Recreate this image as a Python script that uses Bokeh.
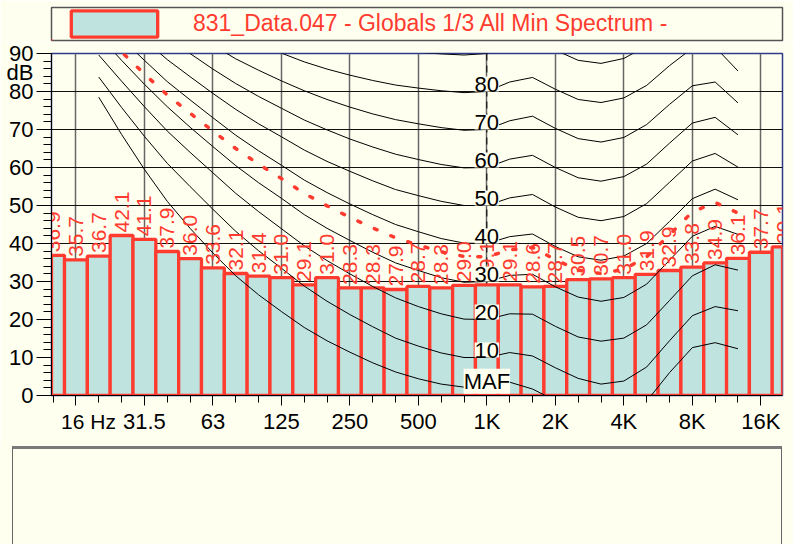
import math
from bokeh.plotting import figure
from bokeh.models import (ColumnDataSource, FixedTicker, Range1d, LabelSet, LinearAxis,
                          Legend, LegendItem, Span, Div)
from bokeh.layouts import column
from bokeh.embed import file_html
from bokeh.resources import INLINE
from bokeh.core.properties import value

# ---------------- data ----------------
series_name = "831_Data.047 - Globals 1/3 All Min Spectrum -"

bands = ["12.5", "16", "20", "25", "31.5", "40", "50", "63", "80", "100", "125",
         "160", "200", "250", "315", "400", "500", "630", "800", "1k", "1.25k",
         "1.6k", "2k", "2.5k", "3.15k", "4k", "5k", "6.3k", "8k", "10k", "12.5k",
         "16k", "20k"]
levels = [36.9, 35.7, 36.7, 42.1, 41.1, 37.9, 36.0, 33.6, 32.1, 31.4, 31.0,
          29.1, 31.0, 28.3, 28.3, 27.9, 28.7, 28.3, 29.0, 29.1, 29.1,
          28.6, 28.7, 30.5, 30.7, 31.0, 31.9, 32.9, 33.8, 34.9, 36.1,
          37.7, 39.1]

octave_bands = ["16", "31.5", "63", "125", "250", "500", "1k", "2k", "4k", "8k", "16k"]
octave_labels = ["", "31.5", "63", "125", "250", "500", "1K", "2K", "4K", "8K", "16K"]
first_label = "16 Hz"
unit_label = "dB"
unit_level = 85

y_ticks = [0, 10, 20, 30, 40, 50, 60, 70, 80, 90]

# equal-loudness contours, 20 Hz .. 12.5 kHz
contour_bands = ["20", "25", "31.5", "40", "50", "63", "80", "100", "125", "160",
                 "200", "250", "315", "400", "500", "630", "800", "1k", "1.25k",
                 "1.6k", "2k", "2.5k", "3.15k", "4k", "5k", "6.3k", "8k", "10k", "12.5k"]
contour_maf = [78.5, 68.7, 59.5, 51.1, 44.0, 37.5, 31.5, 26.5, 22.1, 17.9, 14.4, 11.4, 8.6, 6.2,
               4.4, 3.0, 2.2, 2.4, 3.5, 1.7, -1.3, -4.2, -6.0, -5.4, -1.5, 6.0, 12.6, 13.9, 12.3]
contour_10 = [83.8, 75.8, 68.2, 61.1, 55.0, 49.0, 43.2, 38.1, 33.5, 28.8, 24.8, 21.3, 18.1, 15.1,
              13.0, 11.2, 10.0, 10.0, 11.3, 10.4, 7.3, 4.5, 3.0, 3.8, 7.5, 14.4, 21.0, 23.4, 22.3]
contour_20 = [89.6, 82.7, 76.0, 69.6, 64.0, 58.6, 53.2, 48.4, 43.9, 39.4, 35.5, 32.0, 28.7, 25.7,
              23.4, 21.5, 20.1, 20.0, 21.5, 21.4, 18.2, 15.4, 14.3, 15.1, 18.6, 25.0, 31.5, 34.4, 33.0]
contour_30 = [94.7, 88.2, 81.9, 76.0, 70.6, 65.5, 60.5, 56.0, 51.9, 47.6, 44.0, 40.8, 37.7, 34.9,
              32.9, 31.0, 29.8, 30.0, 31.6, 31.9, 28.6, 25.9, 24.8, 25.8, 29.3, 35.6, 41.9, 44.5, 42.4]
contour_40 = [99.9, 93.9, 88.2, 82.6, 77.8, 73.1, 68.5, 64.4, 60.6, 56.7, 53.4, 50.4, 47.6, 45.0,
              43.1, 41.3, 40.1, 40.0, 41.8, 42.5, 39.2, 36.5, 35.6, 36.7, 40.0, 45.8, 51.8, 54.3, 51.5]
contour_50 = [104.7, 99.1, 93.6, 88.4, 83.9, 79.5, 75.3, 71.5, 68.1, 64.6, 61.6, 59.0, 56.5, 54.2,
              52.6, 51.1, 50.0, 50.0, 52.0, 52.9, 49.6, 46.9, 46.0, 47.1, 50.5, 56.1, 61.7, 63.7, 60.1]
contour_60 = [109.5, 104.2, 99.1, 94.2, 90.0, 85.9, 82.1, 78.7, 75.6, 72.5, 69.9, 67.5, 65.4, 63.5,
              62.1, 60.8, 59.9, 60.0, 62.2, 63.2, 60.0, 57.3, 56.4, 57.6, 60.9, 66.4, 71.7, 73.2, 68.6]
contour_70 = [114.3, 109.2, 104.4, 99.8, 95.8, 92.2, 88.6, 85.6, 82.8, 80.2, 77.9, 75.9, 74.1, 72.6,
              71.5, 70.5, 69.8, 70.0, 72.3, 73.5, 70.3, 67.6, 66.7, 67.9, 71.3, 76.6, 81.5, 82.5, 77.0]
contour_80 = [119.0, 114.2, 109.7, 105.3, 101.7, 98.4, 95.2, 92.5, 90.1, 87.8, 85.9, 84.3, 82.9, 81.7,
              80.9, 80.2, 79.7, 80.0, 82.5, 83.7, 80.6, 77.9, 77.1, 78.3, 81.6, 86.8, 91.4, 91.7, 85.4]
contour_90 = [123.7, 119.2, 114.9, 110.9, 107.6, 104.6, 101.7, 99.4, 97.4, 95.5, 93.9, 92.7, 91.6, 90.8,
              90.3, 89.9, 89.6, 90.0, 92.6, 94.0, 90.9, 88.2, 87.4, 88.7, 92.0, 97.1, 101.3, 101.0, 93.8]
# loudness contour of the spectrum (red dotted)
loudness_contour = [96.3, 90.4, 84.6, 79.1, 74.3, 69.6, 65.0, 60.9, 57.1, 53.2, 49.9, 46.9, 44.1, 41.5,
                    39.6, 37.8, 36.6, 36.5, 38.3, 39.0, 35.7, 33.0, 32.1, 33.2, 36.5, 42.3, 48.3, 50.8, 48.0]

contour_values = [contour_90, contour_80, contour_70, contour_60, contour_50,
                  contour_40, contour_30, contour_20, contour_10, contour_maf]
contour_tags = ["80", "70", "60", "50", "40", "30", "20", "10", "MAF"]
contour_tag_levels = [80, 70, 60, 50, 40, 30, 20, 10, 1.8]

# ---------------- styling ----------------
IVORY = "#fffff0"
RED = "#ff3b2f"
TEAL = "#bfe4df"
FONT = "Liberation Sans"
W = 793

idx = {b: i for i, b in enumerate(bands)}
cx = [idx[b] for b in contour_bands]

# ---------------- legend strip ----------------
pa = figure(width=W, height=42, x_range=Range1d(0, 1), y_range=Range1d(0, 1),
            x_axis_location=None, y_axis_location=None, toolbar_location=None,
            output_backend="svg", min_border_left=51, min_border_right=11,
            min_border_top=7, min_border_bottom=2,
            background_fill_color=IVORY, border_fill_color=IVORY,
            outline_line_color="#555555", outline_line_width=1.5)
pa.grid.visible = False
swatch = pa.vbar(x=[-5], top=[-5], width=1, fill_color=TEAL, line_color=RED, line_width=3.3)
leg = Legend(items=[LegendItem(label=value(series_name), renderers=[swatch])],
             location=(9, 0), padding=0, margin=0, spacing=0,
             glyph_width=108, glyph_height=33, label_standoff=25,
             label_text_font=FONT, label_text_font_size="23px", label_text_color=RED,
             border_line_color=None, background_fill_alpha=0)
pa.add_layout(leg)

# ---------------- main chart ----------------
p = figure(width=W, height=404, x_range=Range1d(-0.07, 31.95), y_range=Range1d(0, 90),
           output_backend="svg", toolbar_location=None,
           min_border_left=51, min_border_right=11, min_border_top=11, min_border_bottom=51,
           background_fill_color=IVORY, border_fill_color=IVORY,
           outline_line_color="#2d3b8a", outline_line_width=1.5)

xt = FixedTicker(ticks=[idx[b] for b in octave_bands], minor_ticks=list(range(len(bands))))
p.xaxis.ticker = xt
p.xgrid.ticker = xt
p.xaxis.major_label_overrides = {idx[b]: lab for b, lab in zip(octave_bands, octave_labels)}
yt = FixedTicker(ticks=y_ticks, minor_ticks=list(range(0, 91, 2)))
p.yaxis.ticker = yt
p.ygrid.ticker = yt

for ax in (p.xaxis, p.yaxis):
    ax.axis_line_color = "black"
    ax.major_tick_line_color = "black"
    ax.minor_tick_line_color = "black"
    ax.major_tick_in = 0
    ax.minor_tick_in = 0
    ax.major_label_text_font = FONT
    ax.major_label_text_font_size = "22px"
    ax.major_label_text_color = "black"
    ax.major_label_standoff = 3
p.xaxis.major_tick_out = 10
p.xaxis.minor_tick_out = 7
p.yaxis.major_tick_out = 15
p.yaxis.minor_tick_out = 8

# extra label-only axes: "dB" beside the y labels, "16 Hz" on the x label row
db_axis = LinearAxis(ticker=FixedTicker(ticks=[unit_level]),
                     major_label_overrides={unit_level: unit_label},
                     axis_line_color=None, major_tick_line_color=None, minor_tick_line_color=None,
                     major_tick_out=0, minor_tick_out=0, major_tick_in=0, minor_tick_in=0,
                     major_label_standoff=-27, major_label_text_font=FONT,
                     major_label_text_font_size="22px", major_label_text_color="black")
p.add_layout(db_axis, "left")
hz_pos = idx["16"] + 0.55
hz_axis = LinearAxis(ticker=FixedTicker(ticks=[hz_pos]),
                     major_label_overrides={hz_pos: first_label},
                     axis_line_color=None, major_tick_line_color=None, minor_tick_line_color=None,
                     major_tick_out=0, minor_tick_out=0, major_tick_in=0, minor_tick_in=0,
                     major_label_standoff=-27, major_label_text_font=FONT,
                     major_label_text_font_size="21px", major_label_text_color="black")
p.add_layout(hz_axis, "below")

p.xgrid.grid_line_color = "#666666"
p.xgrid.grid_line_width = 1.5
p.ygrid.grid_line_color = "#111111"
p.ygrid.grid_line_width = 1

p.add_layout(Span(location=idx["1k"], dimension="height", line_color="black",
                  line_dash="7 5", line_width=1, level="underlay"))

src = ColumnDataSource(dict(x=list(range(len(bands))), top=levels,
                            label=[f"{v:.1f}" for v in levels]))
bars = p.vbar(x="x", top="top", bottom=-1, width=1, source=src,
              fill_color=TEAL, line_color=RED, line_width=3.3)

for vals in contour_values:
    p.line(x=cx, y=vals, line_color="black", line_width=1)

p.line(x=cx, y=loudness_contour, line_color=RED, line_width=3.5,
       line_dash="3 15", line_cap="round")

p.text(x="x", y="top", text="label", source=src, angle=math.pi / 2,
       text_align="left", text_baseline="middle", text_color=RED,
       text_font=value(FONT), text_font_size="21px", y_offset=-3)

tag_src = ColumnDataSource(dict(x=[idx["1k"]] * len(contour_tags), y=contour_tag_levels,
                                t=contour_tags))
p.add_layout(LabelSet(x="x", y="y", text="t", source=tag_src, text_align="center",
                      text_baseline="alphabetic", text_font=value(FONT),
                      text_font_size="22px", text_color="black",
                      background_fill_color=IVORY, background_fill_alpha=1.0))

# ---------------- empty lower panel ----------------
panel = Div(text=('<div style="margin-left:12px;width:770px;height:98px;box-sizing:border-box;'
                  'border-top:3px solid #7a7a7a;border-left:1px solid #666666;'
                  'border-right:1px solid #666666;background:#fffff0;"></div>'),
            width=W, height=98, margin=(0, 0, 0, 0),
            styles={"background-color": IVORY, "padding": "0px", "margin": "0px"})

layout = column(pa, p, panel, spacing=0)
open("out.html", "w").write(file_html(layout, INLINE))
